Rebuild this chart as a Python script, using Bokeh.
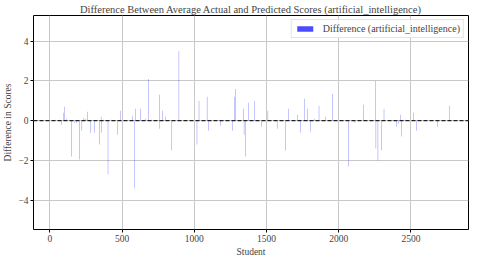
from bokeh.plotting import figure
from bokeh.models import Span, Range1d, FixedTicker
from bokeh.embed import file_html
from bokeh.resources import INLINE

students = [41, 82, 93, 104, 118, 150, 170, 185, 204, 222, 236, 250, 263, 280, 308,
            346, 355, 358, 370, 403, 425, 469, 489, 571, 586, 595, 628, 660, 681, 705,
            759, 762, 781, 800, 845, 894, 1019, 1033, 1089, 1100, 1182, 1264, 1281, 1285,
            1340, 1345, 1354, 1377, 1415, 1467, 1510, 1574, 1632, 1653, 1715, 1737, 1762,
            1785, 1807, 1830, 1864, 1910, 1959, 2067, 2113, 2170, 2256, 2258, 2272, 2298,
            2314, 2370, 2400, 2415, 2430, 2436, 2460, 2520, 2540, 2686, 2765]
diffs = [0.05, -0.2, 0.4, 0.7, 0.1, -1.8, -0.1, -0.1, -1.95, -0.5, 0.15, 0.1, 0.45, -0.6, -0.6,
         -1.2, 0.2, -0.6, 0.05, -2.7, 0.05, -0.7, 0.5, 0.25, -3.4, 0.6, 0.6, 0.1, 2.1, 0.05,
         1.3, -0.4, 0.5, 0.2, -1.5, 3.5, -1.2, 1.0, 1.2, -0.5, -0.25, -0.5, 1.2, 1.6,
         0.6, -0.7, -1.8, 0.9, 1.0, -0.3, 0.5, -0.4, -1.5, 0.6, 0.3, -0.6, 1.1,
         0.6, -0.55, 0.1, 0.75, 0.2, 1.35, -2.3, -0.1, 0.8, 2.0, -1.4, -2.0, -1.5,
         0.6, 0.05, -0.3, -0.15, 0.3, -0.8, 0.05, 0.4, -0.5, -0.3, 0.75]
x_ticks = [0, 500, 1000, 1500, 2000, 2500]
y_ticks = [-4, -2, 0, 2, 4]

FONT = "Liberation Serif"

p = figure(frame_width=435, frame_height=214, output_backend="svg", toolbar_location=None,
           x_range=Range1d(-113, 2899), y_range=Range1d(-5.47, 5.29),
           title="Difference Between Average Actual and Predicted Scores (artificial_intelligence)")
p.min_border_left = 0
p.min_border_right = 2
p.min_border_top = 0
p.min_border_bottom = 0

p.title.align = "center"
p.title.text_font = FONT
p.title.text_font_style = "normal"
p.title.text_font_size = "10.5px"
p.title.standoff = 2

p.vbar(x=students, top=diffs, bottom=0, width=2.2, fill_color="blue", fill_alpha=0.7,
       line_color=None, legend_label="Difference (artificial_intelligence)")

p.add_layout(Span(location=0, dimension="width", line_color="#222222",
                  line_dash="4 2", line_width=1.3))

p.xaxis.ticker = FixedTicker(ticks=x_ticks)
p.yaxis.ticker = FixedTicker(ticks=y_ticks)
p.yaxis.major_label_overrides = {t: (str(t).replace("-", "\u2212")) for t in y_ticks}
p.xaxis.axis_label = "Student"
p.yaxis.axis_label = "Difference in Scores"
for ax in (p.xaxis, p.yaxis):
    ax.axis_label_text_font = FONT
    ax.axis_label_text_font_style = "normal"
    ax.axis_label_text_font_size = "9.5px"
    ax.major_label_text_font = FONT
    ax.major_label_text_font_size = "9.5px"
    ax.minor_tick_line_color = None
    ax.major_tick_in = 0
    ax.major_tick_out = 3
    ax.major_tick_line_color = "black"
    ax.axis_line_color = None
    ax.major_label_standoff = 2
    ax.axis_label_standoff = 2

p.grid.grid_line_color = "#c8c8c8"
p.grid.grid_line_width = 1
p.outline_line_color = "black"
p.outline_line_width = 1
p.outline_line_alpha = 1

p.legend.location = "top_right"
p.legend.label_text_font = FONT
p.legend.label_text_font_size = "10px"
p.legend.border_line_color = "#cccccc"
p.legend.background_fill_alpha = 0.85
p.legend.margin = 4
p.legend.padding = 3
p.legend.glyph_width = 20
p.legend.glyph_height = 7
p.legend.label_standoff = 8
p.legend.label_height = 10

open("out.html", "w").write(file_html(p, INLINE))
